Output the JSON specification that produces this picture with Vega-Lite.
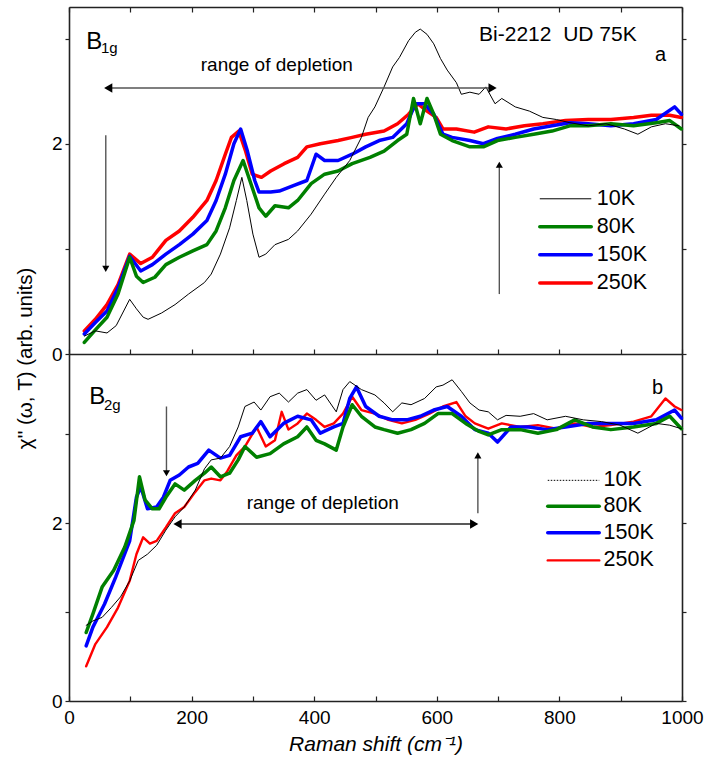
{
  "$schema": "https://vega.github.io/schema/vega-lite/v6.json",
  "background": "white",
  "padding": {"left": 15, "top": 6, "right": 5, "bottom": 5},
  "spacing": 0,
  "bounds": "flush",
  "config": {
    "font": "Liberation Sans",
    "view": {"stroke": null},
    "axis": {
      "grid": false,
      "labelFont": "Liberation Sans",
      "labelFontSize": 19,
      "labelColor": "black",
      "titleFont": "Liberation Sans",
      "titleFontSize": 20.5,
      "titleFontWeight": "normal",
      "titleColor": "black",
      "domainColor": "#222222",
      "domainWidth": 1.6,
      "tickColor": "#222222",
      "tickWidth": 1.2
    },
    "text": {"font": "Liberation Sans", "color": "black"}
  },
  "datasets": {
    "a": [
      {"s":"250K","x":25,"y":0.22},{"s":"250K","x":43,"y":0.33},{"s":"250K","x":62,"y":0.47},{"s":"250K","x":80,"y":0.66},{"s":"250K","x":99,"y":0.95},{"s":"250K","x":117,"y":0.86},{"s":"250K","x":136,"y":0.92},{"s":"250K","x":158,"y":1.08},{"s":"250K","x":180,"y":1.17},{"s":"250K","x":202,"y":1.30},{"s":"250K","x":225,"y":1.46},{"s":"250K","x":240,"y":1.65},{"s":"250K","x":255,"y":1.90},{"s":"250K","x":265,"y":2.06},{"s":"250K","x":277,"y":2.12},{"s":"250K","x":288,"y":1.93},{"s":"250K","x":299,"y":1.71},{"s":"250K","x":314,"y":1.68},{"s":"250K","x":329,"y":1.74},{"s":"250K","x":351,"y":1.81},{"s":"250K","x":373,"y":1.87},{"s":"250K","x":388,"y":1.97},{"s":"250K","x":410,"y":2.00},{"s":"250K","x":439,"y":2.03},{"s":"250K","x":462,"y":2.06},{"s":"250K","x":484,"y":2.09},{"s":"250K","x":514,"y":2.12},{"s":"250K","x":536,"y":2.19},{"s":"250K","x":554,"y":2.28},{"s":"250K","x":569,"y":2.38},{"s":"250K","x":584,"y":2.31},{"s":"250K","x":599,"y":2.25},{"s":"250K","x":610,"y":2.14},{"s":"250K","x":632,"y":2.14},{"s":"250K","x":661,"y":2.11},{"s":"250K","x":684,"y":2.16},{"s":"250K","x":713,"y":2.14},{"s":"250K","x":743,"y":2.17},{"s":"250K","x":773,"y":2.19},{"s":"250K","x":810,"y":2.22},{"s":"250K","x":847,"y":2.23},{"s":"250K","x":884,"y":2.23},{"s":"250K","x":921,"y":2.25},{"s":"250K","x":950,"y":2.27},{"s":"250K","x":980,"y":2.27},{"s":"250K","x":999,"y":2.25},
      {"s":"150K","x":25,"y":0.19},{"s":"150K","x":43,"y":0.30},{"s":"150K","x":62,"y":0.41},{"s":"150K","x":80,"y":0.63},{"s":"150K","x":99,"y":0.93},{"s":"150K","x":117,"y":0.79},{"s":"150K","x":136,"y":0.85},{"s":"150K","x":158,"y":0.95},{"s":"150K","x":180,"y":1.04},{"s":"150K","x":202,"y":1.14},{"s":"150K","x":225,"y":1.27},{"s":"150K","x":240,"y":1.46},{"s":"150K","x":255,"y":1.71},{"s":"150K","x":269,"y":2.00},{"s":"150K","x":280,"y":2.14},{"s":"150K","x":291,"y":1.93},{"s":"150K","x":303,"y":1.65},{"s":"150K","x":310,"y":1.54},{"s":"150K","x":329,"y":1.54},{"s":"150K","x":343,"y":1.55},{"s":"150K","x":365,"y":1.60},{"s":"150K","x":388,"y":1.65},{"s":"150K","x":403,"y":1.90},{"s":"150K","x":417,"y":1.84},{"s":"150K","x":439,"y":1.84},{"s":"150K","x":462,"y":1.90},{"s":"150K","x":484,"y":1.97},{"s":"150K","x":506,"y":2.03},{"s":"150K","x":528,"y":2.06},{"s":"150K","x":551,"y":2.19},{"s":"150K","x":565,"y":2.38},{"s":"150K","x":580,"y":2.38},{"s":"150K","x":595,"y":2.28},{"s":"150K","x":610,"y":2.09},{"s":"150K","x":625,"y":2.06},{"s":"150K","x":654,"y":2.03},{"s":"150K","x":676,"y":2.00},{"s":"150K","x":699,"y":2.05},{"s":"150K","x":728,"y":2.09},{"s":"150K","x":758,"y":2.14},{"s":"150K","x":788,"y":2.17},{"s":"150K","x":817,"y":2.20},{"s":"150K","x":847,"y":2.19},{"s":"150K","x":884,"y":2.17},{"s":"150K","x":921,"y":2.19},{"s":"150K","x":958,"y":2.23},{"s":"150K","x":988,"y":2.35},{"s":"150K","x":999,"y":2.28},
      {"s":"80K","x":25,"y":0.11},{"s":"80K","x":43,"y":0.23},{"s":"80K","x":62,"y":0.35},{"s":"80K","x":80,"y":0.57},{"s":"80K","x":99,"y":0.92},{"s":"80K","x":110,"y":0.74},{"s":"80K","x":121,"y":0.68},{"s":"80K","x":140,"y":0.73},{"s":"80K","x":158,"y":0.85},{"s":"80K","x":180,"y":0.92},{"s":"80K","x":202,"y":0.98},{"s":"80K","x":225,"y":1.04},{"s":"80K","x":240,"y":1.17},{"s":"80K","x":255,"y":1.39},{"s":"80K","x":269,"y":1.65},{"s":"80K","x":284,"y":1.84},{"s":"80K","x":295,"y":1.65},{"s":"80K","x":310,"y":1.39},{"s":"80K","x":321,"y":1.31},{"s":"80K","x":336,"y":1.41},{"s":"80K","x":358,"y":1.39},{"s":"80K","x":373,"y":1.46},{"s":"80K","x":395,"y":1.62},{"s":"80K","x":417,"y":1.71},{"s":"80K","x":439,"y":1.74},{"s":"80K","x":462,"y":1.81},{"s":"80K","x":491,"y":1.87},{"s":"80K","x":514,"y":1.93},{"s":"80K","x":536,"y":2.03},{"s":"80K","x":551,"y":2.09},{"s":"80K","x":562,"y":2.43},{"s":"80K","x":573,"y":2.19},{"s":"80K","x":584,"y":2.43},{"s":"80K","x":595,"y":2.28},{"s":"80K","x":606,"y":2.09},{"s":"80K","x":625,"y":2.03},{"s":"80K","x":654,"y":1.97},{"s":"80K","x":676,"y":1.97},{"s":"80K","x":699,"y":2.03},{"s":"80K","x":728,"y":2.06},{"s":"80K","x":758,"y":2.09},{"s":"80K","x":788,"y":2.12},{"s":"80K","x":817,"y":2.17},{"s":"80K","x":847,"y":2.17},{"s":"80K","x":884,"y":2.19},{"s":"80K","x":921,"y":2.17},{"s":"80K","x":958,"y":2.20},{"s":"80K","x":980,"y":2.22},{"s":"80K","x":999,"y":2.14},
      {"s":"10K","x":25,"y":0.17},{"s":"10K","x":43,"y":0.22},{"s":"10K","x":62,"y":0.20},{"s":"10K","x":77,"y":0.27},{"s":"10K","x":99,"y":0.52},{"s":"10K","x":110,"y":0.43},{"s":"10K","x":121,"y":0.35},{"s":"10K","x":129,"y":0.33},{"s":"10K","x":151,"y":0.39},{"s":"10K","x":173,"y":0.47},{"s":"10K","x":195,"y":0.57},{"s":"10K","x":221,"y":0.68},{"s":"10K","x":232,"y":0.76},{"s":"10K","x":247,"y":0.95},{"s":"10K","x":262,"y":1.20},{"s":"10K","x":273,"y":1.46},{"s":"10K","x":282,"y":1.68},{"s":"10K","x":290,"y":1.46},{"s":"10K","x":300,"y":1.14},{"s":"10K","x":310,"y":0.92},{"s":"10K","x":321,"y":0.95},{"s":"10K","x":336,"y":1.04},{"s":"10K","x":358,"y":1.09},{"s":"10K","x":373,"y":1.17},{"s":"10K","x":395,"y":1.33},{"s":"10K","x":417,"y":1.52},{"s":"10K","x":436,"y":1.68},{"s":"10K","x":458,"y":1.84},{"s":"10K","x":477,"y":2.06},{"s":"10K","x":488,"y":2.25},{"s":"10K","x":499,"y":2.35},{"s":"10K","x":514,"y":2.54},{"s":"10K","x":528,"y":2.73},{"s":"10K","x":539,"y":2.82},{"s":"10K","x":554,"y":2.98},{"s":"10K","x":565,"y":3.06},{"s":"10K","x":573,"y":3.09},{"s":"10K","x":584,"y":3.04},{"s":"10K","x":595,"y":2.95},{"s":"10K","x":606,"y":2.81},{"s":"10K","x":617,"y":2.70},{"s":"10K","x":632,"y":2.58},{"s":"10K","x":640,"y":2.47},{"s":"10K","x":654,"y":2.49},{"s":"10K","x":669,"y":2.47},{"s":"10K","x":680,"y":2.54},{"s":"10K","x":695,"y":2.38},{"s":"10K","x":706,"y":2.43},{"s":"10K","x":728,"y":2.35},{"s":"10K","x":751,"y":2.31},{"s":"10K","x":773,"y":2.25},{"s":"10K","x":795,"y":2.23},{"s":"10K","x":817,"y":2.20},{"s":"10K","x":847,"y":2.17},{"s":"10K","x":876,"y":2.19},{"s":"10K","x":906,"y":2.14},{"s":"10K","x":928,"y":2.09},{"s":"10K","x":950,"y":2.16},{"s":"10K","x":973,"y":2.19},{"s":"10K","x":995,"y":2.17}
    ],
    "b": [
      {"s":"250K","x":28,"y":0.39},{"s":"250K","x":43,"y":0.64},{"s":"250K","x":62,"y":0.83},{"s":"250K","x":80,"y":1.05},{"s":"250K","x":99,"y":1.35},{"s":"250K","x":110,"y":1.65},{"s":"250K","x":121,"y":1.84},{"s":"250K","x":132,"y":1.77},{"s":"250K","x":143,"y":1.80},{"s":"250K","x":158,"y":1.95},{"s":"250K","x":173,"y":2.11},{"s":"250K","x":188,"y":2.18},{"s":"250K","x":206,"y":2.35},{"s":"250K","x":221,"y":2.48},{"s":"250K","x":232,"y":2.50},{"s":"250K","x":247,"y":2.48},{"s":"250K","x":258,"y":2.58},{"s":"250K","x":273,"y":2.76},{"s":"250K","x":287,"y":2.86},{"s":"250K","x":306,"y":3.08},{"s":"250K","x":321,"y":2.86},{"s":"250K","x":336,"y":2.93},{"s":"250K","x":347,"y":3.25},{"s":"250K","x":358,"y":3.05},{"s":"250K","x":373,"y":3.12},{"s":"250K","x":388,"y":3.23},{"s":"250K","x":403,"y":3.16},{"s":"250K","x":417,"y":3.08},{"s":"250K","x":432,"y":3.12},{"s":"250K","x":447,"y":3.23},{"s":"250K","x":462,"y":3.42},{"s":"250K","x":477,"y":3.27},{"s":"250K","x":499,"y":3.23},{"s":"250K","x":521,"y":3.16},{"s":"250K","x":543,"y":3.12},{"s":"250K","x":565,"y":3.16},{"s":"250K","x":588,"y":3.23},{"s":"250K","x":610,"y":3.31},{"s":"250K","x":632,"y":3.36},{"s":"250K","x":647,"y":3.20},{"s":"250K","x":662,"y":3.12},{"s":"250K","x":684,"y":3.06},{"s":"250K","x":706,"y":3.12},{"s":"250K","x":736,"y":3.08},{"s":"250K","x":765,"y":3.10},{"s":"250K","x":795,"y":3.06},{"s":"250K","x":825,"y":3.12},{"s":"250K","x":854,"y":3.08},{"s":"250K","x":884,"y":3.10},{"s":"250K","x":921,"y":3.14},{"s":"250K","x":950,"y":3.20},{"s":"250K","x":973,"y":3.40},{"s":"250K","x":988,"y":3.31},{"s":"250K","x":999,"y":3.27},
      {"s":"150K","x":28,"y":0.62},{"s":"150K","x":39,"y":0.83},{"s":"150K","x":58,"y":1.09},{"s":"150K","x":76,"y":1.39},{"s":"150K","x":99,"y":1.80},{"s":"150K","x":110,"y":2.29},{"s":"150K","x":117,"y":2.41},{"s":"150K","x":128,"y":2.16},{"s":"150K","x":143,"y":2.18},{"s":"150K","x":154,"y":2.29},{"s":"150K","x":165,"y":2.48},{"s":"150K","x":180,"y":2.54},{"s":"150K","x":195,"y":2.63},{"s":"150K","x":210,"y":2.67},{"s":"150K","x":228,"y":2.82},{"s":"150K","x":247,"y":2.73},{"s":"150K","x":262,"y":2.76},{"s":"150K","x":280,"y":2.97},{"s":"150K","x":299,"y":3.01},{"s":"150K","x":313,"y":3.14},{"s":"150K","x":328,"y":2.97},{"s":"150K","x":350,"y":3.12},{"s":"150K","x":373,"y":3.20},{"s":"150K","x":395,"y":3.16},{"s":"150K","x":410,"y":3.01},{"s":"150K","x":432,"y":3.08},{"s":"150K","x":447,"y":3.12},{"s":"150K","x":458,"y":3.40},{"s":"150K","x":469,"y":3.53},{"s":"150K","x":484,"y":3.31},{"s":"150K","x":506,"y":3.20},{"s":"150K","x":528,"y":3.16},{"s":"150K","x":551,"y":3.16},{"s":"150K","x":573,"y":3.20},{"s":"150K","x":595,"y":3.27},{"s":"150K","x":617,"y":3.31},{"s":"150K","x":640,"y":3.20},{"s":"150K","x":662,"y":3.05},{"s":"150K","x":684,"y":3.01},{"s":"150K","x":699,"y":2.91},{"s":"150K","x":721,"y":3.08},{"s":"150K","x":750,"y":3.08},{"s":"150K","x":780,"y":3.05},{"s":"150K","x":810,"y":3.08},{"s":"150K","x":847,"y":3.12},{"s":"150K","x":884,"y":3.12},{"s":"150K","x":921,"y":3.12},{"s":"150K","x":958,"y":3.16},{"s":"150K","x":988,"y":3.27},{"s":"150K","x":999,"y":3.18},
      {"s":"80K","x":28,"y":0.77},{"s":"80K","x":39,"y":0.98},{"s":"80K","x":54,"y":1.28},{"s":"80K","x":73,"y":1.47},{"s":"80K","x":91,"y":1.73},{"s":"80K","x":106,"y":2.03},{"s":"80K","x":115,"y":2.52},{"s":"80K","x":124,"y":2.26},{"s":"80K","x":136,"y":2.16},{"s":"80K","x":147,"y":2.16},{"s":"80K","x":158,"y":2.29},{"s":"80K","x":173,"y":2.44},{"s":"80K","x":188,"y":2.37},{"s":"80K","x":206,"y":2.48},{"s":"80K","x":221,"y":2.56},{"s":"80K","x":232,"y":2.63},{"s":"80K","x":247,"y":2.52},{"s":"80K","x":262,"y":2.56},{"s":"80K","x":276,"y":2.71},{"s":"80K","x":287,"y":2.86},{"s":"80K","x":306,"y":2.74},{"s":"80K","x":328,"y":2.78},{"s":"80K","x":350,"y":2.89},{"s":"80K","x":373,"y":2.97},{"s":"80K","x":388,"y":3.08},{"s":"80K","x":403,"y":2.93},{"s":"80K","x":417,"y":2.89},{"s":"80K","x":436,"y":2.82},{"s":"80K","x":447,"y":3.08},{"s":"80K","x":462,"y":3.33},{"s":"80K","x":477,"y":3.20},{"s":"80K","x":499,"y":3.08},{"s":"80K","x":514,"y":3.05},{"s":"80K","x":536,"y":3.01},{"s":"80K","x":558,"y":3.05},{"s":"80K","x":580,"y":3.12},{"s":"80K","x":602,"y":3.23},{"s":"80K","x":625,"y":3.23},{"s":"80K","x":647,"y":3.12},{"s":"80K","x":669,"y":3.03},{"s":"80K","x":684,"y":2.99},{"s":"80K","x":706,"y":3.05},{"s":"80K","x":736,"y":3.05},{"s":"80K","x":765,"y":3.01},{"s":"80K","x":795,"y":3.05},{"s":"80K","x":825,"y":3.16},{"s":"80K","x":854,"y":3.08},{"s":"80K","x":884,"y":3.05},{"s":"80K","x":921,"y":3.08},{"s":"80K","x":958,"y":3.12},{"s":"80K","x":980,"y":3.20},{"s":"80K","x":999,"y":3.06},
      {"s":"10K","x":28,"y":0.85},{"s":"10K","x":39,"y":0.90},{"s":"10K","x":54,"y":0.94},{"s":"10K","x":69,"y":1.05},{"s":"10K","x":84,"y":1.17},{"s":"10K","x":99,"y":1.35},{"s":"10K","x":113,"y":1.58},{"s":"10K","x":128,"y":1.65},{"s":"10K","x":143,"y":1.75},{"s":"10K","x":158,"y":1.92},{"s":"10K","x":173,"y":2.07},{"s":"10K","x":188,"y":2.18},{"s":"10K","x":206,"y":2.37},{"s":"10K","x":221,"y":2.61},{"s":"10K","x":232,"y":2.71},{"s":"10K","x":247,"y":2.73},{"s":"10K","x":262,"y":2.86},{"s":"10K","x":276,"y":3.08},{"s":"10K","x":287,"y":3.31},{"s":"10K","x":302,"y":3.36},{"s":"10K","x":313,"y":3.27},{"s":"10K","x":328,"y":3.42},{"s":"10K","x":343,"y":3.46},{"s":"10K","x":358,"y":3.36},{"s":"10K","x":373,"y":3.46},{"s":"10K","x":388,"y":3.50},{"s":"10K","x":403,"y":3.38},{"s":"10K","x":417,"y":3.44},{"s":"10K","x":436,"y":3.25},{"s":"10K","x":447,"y":3.50},{"s":"10K","x":458,"y":3.59},{"s":"10K","x":477,"y":3.50},{"s":"10K","x":499,"y":3.44},{"s":"10K","x":514,"y":3.35},{"s":"10K","x":528,"y":3.25},{"s":"10K","x":543,"y":3.35},{"s":"10K","x":558,"y":3.33},{"s":"10K","x":580,"y":3.40},{"s":"10K","x":599,"y":3.53},{"s":"10K","x":610,"y":3.55},{"s":"10K","x":625,"y":3.61},{"s":"10K","x":640,"y":3.48},{"s":"10K","x":654,"y":3.35},{"s":"10K","x":669,"y":3.27},{"s":"10K","x":684,"y":3.25},{"s":"10K","x":699,"y":3.16},{"s":"10K","x":713,"y":3.21},{"s":"10K","x":736,"y":3.20},{"s":"10K","x":758,"y":3.23},{"s":"10K","x":780,"y":3.16},{"s":"10K","x":810,"y":3.20},{"s":"10K","x":839,"y":3.16},{"s":"10K","x":869,"y":3.14},{"s":"10K","x":899,"y":3.10},{"s":"10K","x":928,"y":3.01},{"s":"10K","x":958,"y":3.12},{"s":"10K","x":980,"y":3.10},{"s":"10K","x":999,"y":3.06}
    ],
    "one": [{}]
  },
  "vconcat": [
    {
      "width": 613,
      "height": 347,
      "layer": [
        {
          "data": {"name": "a"},
          "mark": {"type": "line", "strokeJoin": "round", "strokeCap": "round"},
          "encoding": {
            "x": {"field": "x", "type": "quantitative", "scale": {"domain": [0, 1000], "nice": false},
                  "axis": {"orient": "bottom", "values": [0,100,200,300,400,500,600,700,800,900,1000], "labels": false, "title": null, "tickSize": -5}},
            "y": {"field": "y", "type": "quantitative", "scale": {"domain": [0, 3.3], "nice": false, "zero": false},
                  "axis": {"orient": "left", "values": [0,1,2,3], "labelExpr": "datum.value % 2 === 0 ? datum.label : ''", "tickSize": 4, "labelPadding": 3,
                           "title": "χ'' (ω, T) (arb. units)", "titleAngle": -90, "titleX": -38, "titleY": 351, "titleAlign": "center", "titleAnchor": "middle", "titleBaseline": "alphabetic"}},
            "color": {"field": "s", "type": "nominal", "legend": null,
                      "scale": {"domain": ["10K", "80K", "150K", "250K"], "range": ["#000000", "#008000", "#0000ff", "#ff0000"]}},
            "strokeWidth": {"condition": {"test": "datum.s === '10K'", "value": 1}, "value": 3.5}
          }
        },
        {
          "data": {"name": "one"},
          "mark": {"type": "text", "text": "B", "fontSize": 24, "align": "left", "baseline": "alphabetic"},
          "encoding": {
            "x": {"datum": 28, "type": "quantitative", "axis": {"orient": "top", "values": [0,100,200,300,400,500,600,700,800,900,1000], "labels": false, "title": null, "tickSize": -5}},
            "y": {"datum": 2.9, "type": "quantitative", "axis": {"orient": "right", "values": [0,1,2,3], "labels": false, "title": null, "tickSize": 4}}
          }
        },
        {"data": {"name": "one"}, "mark": {"type": "text", "text": "1g", "fontSize": 15, "align": "left", "baseline": "alphabetic"},
         "encoding": {"x": {"datum": 52, "type": "quantitative", "axis": null}, "y": {"datum": 2.86, "type": "quantitative", "axis": null}}},
        {"data": {"name": "one"}, "mark": {"type": "text", "text": "Bi-2212\u00a0 UD 75K", "fontSize": 21, "align": "left", "baseline": "alphabetic"},
         "encoding": {"x": {"datum": 669, "type": "quantitative", "axis": null}, "y": {"datum": 2.98, "type": "quantitative", "axis": null}}},
        {"data": {"name": "one"}, "mark": {"type": "text", "text": "a", "fontSize": 20, "align": "left", "baseline": "alphabetic"},
         "encoding": {"x": {"datum": 956, "type": "quantitative", "axis": null}, "y": {"datum": 2.79, "type": "quantitative", "axis": null}}},
        {"data": {"name": "one"}, "mark": {"type": "text", "text": "range of depletion", "fontSize": 19, "align": "center", "baseline": "alphabetic"},
         "encoding": {"x": {"datum": 339, "type": "quantitative", "axis": null}, "y": {"datum": 2.69, "type": "quantitative", "axis": null}}},
        {"data": {"name": "one"}, "mark": {"type": "rule", "color": "#555555", "strokeWidth": 1.4},
         "encoding": {"x": {"datum": 60, "type": "quantitative", "axis": null}, "x2": {"datum": 695}, "y": {"datum": 2.53, "type": "quantitative", "axis": null}}},
        {"data": {"name": "one"}, "mark": {"type": "point", "shape": "triangle-left", "filled": true, "size": 90, "color": "black", "opacity": 1},
         "encoding": {"x": {"datum": 64, "type": "quantitative", "axis": null}, "y": {"datum": 2.53, "type": "quantitative", "axis": null}}},
        {"data": {"name": "one"}, "mark": {"type": "point", "shape": "triangle-right", "filled": true, "size": 90, "color": "black", "opacity": 1},
         "encoding": {"x": {"datum": 691, "type": "quantitative", "axis": null}, "y": {"datum": 2.53, "type": "quantitative", "axis": null}}},
        {"data": {"name": "one"}, "mark": {"type": "rule", "color": "#555555", "strokeWidth": 1.4},
         "encoding": {"x": {"datum": 60, "type": "quantitative", "axis": null}, "y": {"datum": 2.08, "type": "quantitative", "axis": null}, "y2": {"datum": 0.82}}},
        {"data": {"name": "one"}, "mark": {"type": "point", "shape": "triangle-down", "filled": true, "size": 50, "color": "black", "opacity": 1},
         "encoding": {"x": {"datum": 60, "type": "quantitative", "axis": null}, "y": {"datum": 0.81, "type": "quantitative", "axis": null}}},
        {"data": {"name": "one"}, "mark": {"type": "rule", "color": "#555555", "strokeWidth": 1.4},
         "encoding": {"x": {"datum": 702, "type": "quantitative", "axis": null}, "y": {"datum": 0.57, "type": "quantitative", "axis": null}, "y2": {"datum": 1.79}}},
        {"data": {"name": "one"}, "mark": {"type": "point", "shape": "triangle-up", "filled": true, "size": 50, "color": "black", "opacity": 1},
         "encoding": {"x": {"datum": 702, "type": "quantitative", "axis": null}, "y": {"datum": 1.80, "type": "quantitative", "axis": null}}},
        {"data": {"name": "one"}, "mark": {"type": "rule", "color": "#000000", "strokeWidth": 1},
         "encoding": {"x": {"datum": 768, "type": "quantitative", "axis": null}, "x2": {"datum": 852}, "y": {"datum": 1.476, "type": "quantitative", "axis": null}}},
        {"data": {"name": "one"}, "mark": {"type": "rule", "color": "#008000", "strokeWidth": 3.5, "strokeCap": "round"},
         "encoding": {"x": {"datum": 768, "type": "quantitative", "axis": null}, "x2": {"datum": 852}, "y": {"datum": 1.21, "type": "quantitative", "axis": null}}},
        {"data": {"name": "one"}, "mark": {"type": "rule", "color": "#0000ff", "strokeWidth": 3.5, "strokeCap": "round"},
         "encoding": {"x": {"datum": 768, "type": "quantitative", "axis": null}, "x2": {"datum": 852}, "y": {"datum": 0.943, "type": "quantitative", "axis": null}}},
        {"data": {"name": "one"}, "mark": {"type": "rule", "color": "#ff0000", "strokeWidth": 3.5, "strokeCap": "round"},
         "encoding": {"x": {"datum": 768, "type": "quantitative", "axis": null}, "x2": {"datum": 852}, "y": {"datum": 0.676, "type": "quantitative", "axis": null}}},
        {"data": {"name": "one"}, "mark": {"type": "text", "text": "10K", "fontSize": 21.5, "align": "left", "baseline": "middle"},
         "encoding": {"x": {"datum": 861, "type": "quantitative", "axis": null}, "y": {"datum": 1.476, "type": "quantitative", "axis": null}}},
        {"data": {"name": "one"}, "mark": {"type": "text", "text": "80K", "fontSize": 21.5, "align": "left", "baseline": "middle"},
         "encoding": {"x": {"datum": 861, "type": "quantitative", "axis": null}, "y": {"datum": 1.21, "type": "quantitative", "axis": null}}},
        {"data": {"name": "one"}, "mark": {"type": "text", "text": "150K", "fontSize": 21.5, "align": "left", "baseline": "middle"},
         "encoding": {"x": {"datum": 861, "type": "quantitative", "axis": null}, "y": {"datum": 0.943, "type": "quantitative", "axis": null}}},
        {"data": {"name": "one"}, "mark": {"type": "text", "text": "250K", "fontSize": 21.5, "align": "left", "baseline": "middle"},
         "encoding": {"x": {"datum": 861, "type": "quantitative", "axis": null}, "y": {"datum": 0.676, "type": "quantitative", "axis": null}}}
      ],
      "resolve": {"axis": {"x": "independent", "y": "independent"}}
    },
    {
      "width": 613,
      "height": 347,
      "layer": [
        {
          "data": {"name": "b"},
          "mark": {"type": "line", "strokeJoin": "round", "strokeCap": "round"},
          "encoding": {
            "x": {"field": "x", "type": "quantitative", "scale": {"domain": [0, 1000], "nice": false},
                  "axis": {"orient": "bottom", "values": [0,100,200,300,400,500,600,700,800,900,1000], "format": "d", "labelExpr": "datum.value % 200 === 0 ? datum.label : ''", "labelFlush": false, "labelOverlap": false, "tickSize": -5, "labelPadding": 12,
                           "title": "Raman shift (cm⁻¹)", "titleFontStyle": "italic", "titleFontSize": 21, "titlePadding": 6}},
            "y": {"field": "y", "type": "quantitative", "scale": {"domain": [0, 3.9], "nice": false, "zero": false},
                  "axis": {"orient": "left", "values": [0,1,2,3], "labelExpr": "datum.value % 2 === 0 ? datum.label : ''", "tickSize": 4, "labelPadding": 3, "title": null}},
            "color": {"field": "s", "type": "nominal", "legend": null,
                      "scale": {"domain": ["10K", "80K", "150K", "250K"], "range": ["#000000", "#008000", "#0000ff", "#ff0000"]}},
            "strokeWidth": {"condition": [{"test": "datum.s === '10K'", "value": 1}, {"test": "datum.s === '250K'", "value": 2.4}], "value": 3.5}
          }
        },
        {
          "data": {"name": "one"},
          "mark": {"type": "text", "text": "B", "fontSize": 24, "align": "left", "baseline": "alphabetic"},
          "encoding": {
            "x": {"datum": 33, "type": "quantitative", "axis": null},
            "y": {"datum": 3.34, "type": "quantitative", "axis": {"orient": "right", "values": [0,1,2,3], "labels": false, "title": null, "tickSize": 4}}
          }
        },
        {"data": {"name": "one"}, "mark": {"type": "text", "text": "2g", "fontSize": 15, "align": "left", "baseline": "alphabetic"},
         "encoding": {"x": {"datum": 57, "type": "quantitative", "axis": null}, "y": {"datum": 3.27, "type": "quantitative", "axis": null}}},
        {"data": {"name": "one"}, "mark": {"type": "text", "text": "b", "fontSize": 20, "align": "left", "baseline": "alphabetic"},
         "encoding": {"x": {"datum": 951, "type": "quantitative", "axis": null}, "y": {"datum": 3.45, "type": "quantitative", "axis": null}}},
        {"data": {"name": "one"}, "mark": {"type": "text", "text": "range of depletion", "fontSize": 19, "align": "center", "baseline": "alphabetic"},
         "encoding": {"x": {"datum": 414, "type": "quantitative", "axis": null}, "y": {"datum": 2.16, "type": "quantitative", "axis": null}}},
        {"data": {"name": "one"}, "mark": {"type": "rule", "color": "#222222", "strokeWidth": 1.4},
         "encoding": {"x": {"datum": 173, "type": "quantitative", "axis": null}, "x2": {"datum": 665}, "y": {"datum": 1.99, "type": "quantitative", "axis": null}}},
        {"data": {"name": "one"}, "mark": {"type": "point", "shape": "triangle-left", "filled": true, "size": 90, "color": "black", "opacity": 1},
         "encoding": {"x": {"datum": 177, "type": "quantitative", "axis": null}, "y": {"datum": 1.99, "type": "quantitative", "axis": null}}},
        {"data": {"name": "one"}, "mark": {"type": "point", "shape": "triangle-right", "filled": true, "size": 90, "color": "black", "opacity": 1},
         "encoding": {"x": {"datum": 661, "type": "quantitative", "axis": null}, "y": {"datum": 1.99, "type": "quantitative", "axis": null}}},
        {"data": {"name": "one"}, "mark": {"type": "rule", "color": "#555555", "strokeWidth": 1.4},
         "encoding": {"x": {"datum": 159, "type": "quantitative", "axis": null}, "y": {"datum": 3.31, "type": "quantitative", "axis": null}, "y2": {"datum": 2.57}}},
        {"data": {"name": "one"}, "mark": {"type": "point", "shape": "triangle-down", "filled": true, "size": 50, "color": "black", "opacity": 1},
         "encoding": {"x": {"datum": 159, "type": "quantitative", "axis": null}, "y": {"datum": 2.56, "type": "quantitative", "axis": null}}},
        {"data": {"name": "one"}, "mark": {"type": "rule", "color": "#555555", "strokeWidth": 1.4},
         "encoding": {"x": {"datum": 667, "type": "quantitative", "axis": null}, "y": {"datum": 2.11, "type": "quantitative", "axis": null}, "y2": {"datum": 2.75}}},
        {"data": {"name": "one"}, "mark": {"type": "point", "shape": "triangle-up", "filled": true, "size": 50, "color": "black", "opacity": 1},
         "encoding": {"x": {"datum": 667, "type": "quantitative", "axis": null}, "y": {"datum": 2.76, "type": "quantitative", "axis": null}}},
        {"data": {"name": "one"}, "mark": {"type": "rule", "color": "#000000", "strokeWidth": 1, "strokeDash": [1.5, 1.5]},
         "encoding": {"x": {"datum": 781, "type": "quantitative", "axis": null}, "x2": {"datum": 865}, "y": {"datum": 2.48, "type": "quantitative", "axis": null}}},
        {"data": {"name": "one"}, "mark": {"type": "rule", "color": "#008000", "strokeWidth": 3.5, "strokeCap": "round"},
         "encoding": {"x": {"datum": 781, "type": "quantitative", "axis": null}, "x2": {"datum": 865}, "y": {"datum": 2.19, "type": "quantitative", "axis": null}}},
        {"data": {"name": "one"}, "mark": {"type": "rule", "color": "#0000ff", "strokeWidth": 3.5, "strokeCap": "round"},
         "encoding": {"x": {"datum": 781, "type": "quantitative", "axis": null}, "x2": {"datum": 865}, "y": {"datum": 1.89, "type": "quantitative", "axis": null}}},
        {"data": {"name": "one"}, "mark": {"type": "rule", "color": "#ff0000", "strokeWidth": 2.4, "strokeCap": "round"},
         "encoding": {"x": {"datum": 781, "type": "quantitative", "axis": null}, "x2": {"datum": 865}, "y": {"datum": 1.58, "type": "quantitative", "axis": null}}},
        {"data": {"name": "one"}, "mark": {"type": "text", "text": "10K", "fontSize": 21.5, "align": "left", "baseline": "middle"},
         "encoding": {"x": {"datum": 872, "type": "quantitative", "axis": null}, "y": {"datum": 2.48, "type": "quantitative", "axis": null}}},
        {"data": {"name": "one"}, "mark": {"type": "text", "text": "80K", "fontSize": 21.5, "align": "left", "baseline": "middle"},
         "encoding": {"x": {"datum": 872, "type": "quantitative", "axis": null}, "y": {"datum": 2.19, "type": "quantitative", "axis": null}}},
        {"data": {"name": "one"}, "mark": {"type": "text", "text": "150K", "fontSize": 21.5, "align": "left", "baseline": "middle"},
         "encoding": {"x": {"datum": 872, "type": "quantitative", "axis": null}, "y": {"datum": 1.89, "type": "quantitative", "axis": null}}},
        {"data": {"name": "one"}, "mark": {"type": "text", "text": "250K", "fontSize": 21.5, "align": "left", "baseline": "middle"},
         "encoding": {"x": {"datum": 872, "type": "quantitative", "axis": null}, "y": {"datum": 1.58, "type": "quantitative", "axis": null}}}
      ],
      "resolve": {"axis": {"x": "independent", "y": "independent"}}
    }
  ],
  "resolve": {"scale": {"color": "independent"}}
}
